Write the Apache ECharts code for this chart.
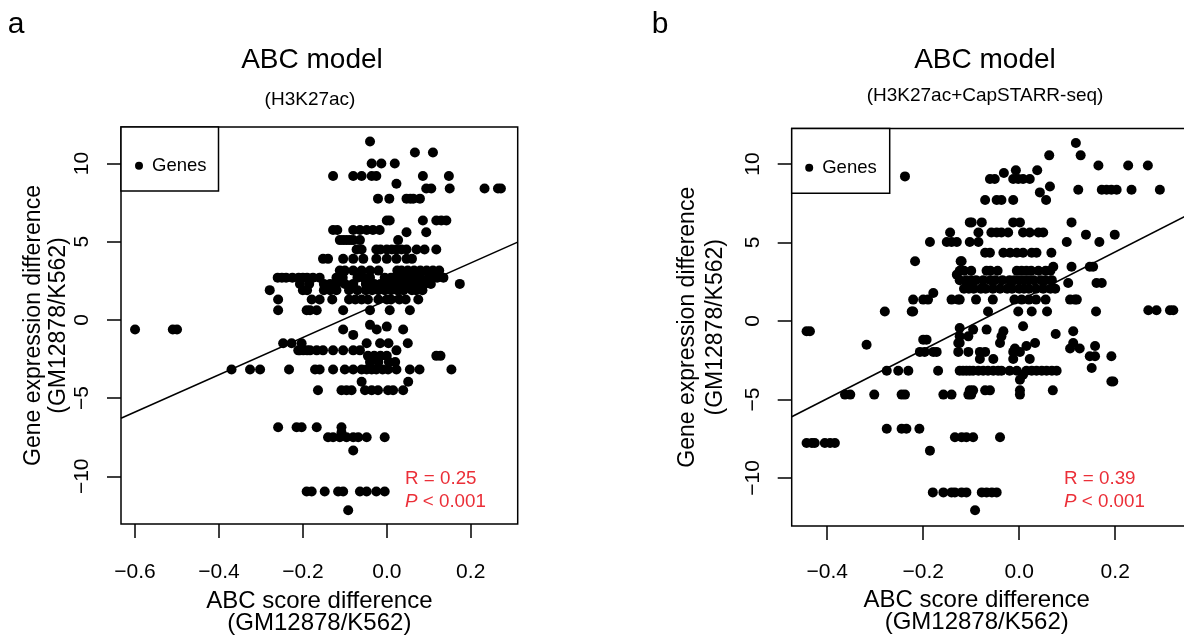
<!DOCTYPE html>
<html>
<head>
<meta charset="utf-8">
<style>
  html, body { margin: 0; padding: 0; background: #fff; }
  #main { width: 1184px; height: 635px; }
</style>
</head>
<body>
  <div id="main"></div>
  <script src="https://cdn.jsdelivr.net/npm/echarts@6/dist/echarts.min.js"></script>
  <script>
    // panel a: rows of genes, [expression difference, [ABC score differences]]
    var leftRows = [
      [11.4, [-0.04]],
      [10.7, [0.067, 0.11]],
      [10.0, [-0.036, -0.013, 0.019]],
      [9.2, [-0.128, -0.08, -0.06, -0.036, -0.025, 0.086, 0.148]],
      [8.7, [0.023]],
      [8.4, [0.094, 0.106, 0.15, 0.233, 0.265, 0.272]],
      [7.75, [-0.021, 0.006, 0.047, 0.056, 0.063, 0.079]],
      [6.35, [0.0, 0.007, 0.086, 0.118, 0.13, 0.142]],
      [5.75, [-0.128, -0.118, -0.08, -0.064, -0.048, -0.033, -0.017]],
      [5.6, [0.047, 0.094]],
      [5.1, [-0.112, -0.104, -0.096, -0.088, -0.08, -0.064, 0.027]],
      [4.5, [-0.072, -0.06, -0.025, -0.015, 0, 0.012, 0.023, 0.035, 0.047, 0.071, 0.09, 0.118]],
      [3.9, [-0.152, -0.14, -0.104, -0.08, -0.056, -0.025, 0, 0.023, 0.047, 0.06]],
      [3.15, [-0.112, -0.1, -0.08, -0.06, -0.04, -0.02, 0.025, 0.035, 0.05, 0.065, 0.08, 0.095, 0.11, 0.125]],
      [2.7, [-0.26, -0.25, -0.24, -0.225, -0.21, -0.2, -0.19, -0.176, -0.16, -0.12, -0.105, -0.07, -0.055, -0.04, -0.005, 0.01, 0.02, 0.035, 0.05, 0.065, 0.08, 0.1, 0.12, 0.135]],
      [2.3, [-0.207, -0.185, -0.15, -0.135, -0.12, -0.1, -0.08, -0.05, -0.03, -0.015, 0, 0.015, 0.03, 0.045, 0.06, 0.075, 0.09, 0.105, 0.174]],
      [1.9, [-0.279, -0.2, -0.19, -0.15, -0.135, -0.12, -0.09, -0.07, -0.05, -0.035, -0.02, -0.005, 0.01, 0.025, 0.04, 0.06, 0.07, 0.085]],
      [1.3, [-0.259, -0.179, -0.16, -0.13, -0.09, -0.075, -0.06, -0.045, -0.02, 0, 0.01, 0.03, 0.045, 0.075]],
      [0.62, [-0.259, -0.191, -0.183, -0.167, -0.104, -0.04, 0.007, 0.055]],
      [-0.32, [-0.04]],
      [-0.43, [0]],
      [-0.62, [-0.6, -0.51, -0.5, -0.104, -0.024, 0.039]],
      [-0.96, [-0.08]],
      [-1.5, [-0.247, -0.227, -0.203, -0.048, -0.016, 0.004, 0.05]],
      [-1.95, [-0.211, -0.207, -0.199, -0.19, -0.183, -0.167, -0.152, -0.128, -0.104, -0.08, -0.064, 0.023]],
      [-2.3, [-0.045, -0.03, -0.015, 0, 0.118, 0.128]],
      [-2.7, [-0.04, -0.02, 0.005, 0.02]],
      [-3.17, [-0.37, -0.326, -0.302, -0.233, -0.171, -0.16, -0.128, -0.1, -0.08, -0.06, -0.048, -0.036, -0.025, -0.01, 0.003, 0.023, 0.055, 0.078, 0.154]],
      [-3.96, [-0.06, 0.051]],
      [-4.5, [-0.164, -0.108, -0.096, -0.084, -0.052, -0.036, -0.021, 0.003, 0.015, 0.039]],
      [-6.86, [-0.259, -0.215, -0.203, -0.167, -0.108]],
      [-7.2, [-0.108]],
      [-7.5, [-0.14, -0.128, -0.112, -0.096, -0.08, -0.068, -0.048, -0.005]],
      [-8.35, [-0.08]],
      [-10.97, [-0.191, -0.179, -0.148, -0.116, -0.104, -0.064, -0.048, -0.025, -0.005]],
      [-12.17, [-0.092]]
    ];

    // panel b
    var rightRows = [
      [11.34, [0.118]],
      [10.55, [0.0625, 0.128]],
      [9.9, [0.165, 0.227, 0.268]],
      [9.6, [-0.007, 0.0375]],
      [9.43, [-0.032]],
      [9.21, [-0.238]],
      [9.04, [-0.061, -0.051, -0.0125, -0.002, 0.008, 0.022]],
      [8.57, [0.064]],
      [8.36, [0.123, 0.172, 0.182, 0.192, 0.203, 0.234, 0.293]],
      [8.19, [0.043]],
      [7.7, [-0.071, -0.047, -0.037, -0.0125, 0.056]],
      [6.28, [-0.103, -0.099, -0.078, -0.0125, 0.0015, 0.109]],
      [5.64, [-0.144, -0.085, -0.058, -0.047, -0.037, -0.023, 0.008, 0.022, 0.04, 0.05]],
      [5.5, [0.139, 0.199]],
      [5.03, [-0.186, -0.151, -0.141, -0.13, -0.103, -0.085, 0.099, 0.167]],
      [4.35, [-0.071, -0.061, -0.033, -0.019, -0.005, 0.008, 0.026, 0.036, 0.067]],
      [3.8, [-0.217, -0.122, -0.12]],
      [3.45, [0.071, 0.109, 0.147, 0.154]],
      [3.2, [-0.124, -0.115, -0.1, -0.068, -0.06, -0.045, -0.005, 0.005, 0.015, 0.025, 0.04, 0.055, 0.065]],
      [2.95, [-0.13]],
      [2.6, [-0.124, -0.11, -0.1, -0.09, -0.075, -0.06, -0.05, -0.035, -0.02, -0.01, 0, 0.01, 0.02, 0.03, 0.045, 0.055, 0.068]],
      [2.42, [0.102, 0.161, 0.172]],
      [2.05, [-0.115, -0.105, -0.095, -0.08, -0.07, -0.055, -0.04, -0.025, -0.015, 0, 0.01, 0.02, 0.035, 0.05, 0.065, 0.075]],
      [1.78, [-0.179]],
      [1.36, [-0.221, -0.2, -0.19, -0.141, -0.127, -0.124, -0.09, -0.055, -0.01, 0.005, 0.02, 0.035, 0.055, 0.106, 0.116, 0.12]],
      [0.68, [0.269, 0.286, 0.314, 0.321]],
      [0.6, [-0.28, -0.224, -0.221, -0.065, -0.002, 0.026, 0.058, 0.16]],
      [-0.34, [0.008]],
      [-0.45, [-0.124]],
      [-0.55, [-0.096, -0.068]],
      [-0.66, [-0.443, -0.436, -0.033, 0.1125]],
      [-0.83, [0.076]],
      [-0.98, [-0.124, -0.106, -0.037]],
      [-1.19, [-0.2, -0.193]],
      [-1.4, [-0.127, -0.124, -0.04, 0.033, 0.1125]],
      [-1.51, [-0.318]],
      [-1.6, [0.015, 0.158]],
      [-1.75, [-0.009, 0.106, 0.126]],
      [-1.97, [-0.207, -0.197, -0.179, -0.172, -0.127, -0.106, -0.082, -0.071, -0.0125, 0.0015]],
      [-2.25, [0.147, 0.158, 0.192]],
      [-2.42, [-0.082, -0.054, -0.0125, 0.022]],
      [-3.0, [0.151]],
      [-3.17, [-0.276, -0.252, -0.231, -0.169, -0.124, -0.117, -0.11, -0.103, -0.096, -0.085, -0.075, -0.065, -0.054, -0.044, -0.037, -0.02, -0.005, 0.015, 0.026, 0.036, 0.047, 0.057, 0.068, 0.078]],
      [-3.42, [0.008]],
      [-3.74, [0.0015]],
      [-3.85, [0.192, 0.196]],
      [-4.42, [-0.103, -0.096, -0.071, -0.061, 0.0015, 0.07]],
      [-4.69, [-0.363, -0.352, -0.302, -0.245, -0.238, -0.158, -0.141, -0.106, -0.1, 0.0015]],
      [-6.86, [-0.276, -0.245, -0.235, -0.208]],
      [-7.41, [-0.134, -0.12, -0.11, -0.096, -0.04]],
      [-7.77, [-0.443, -0.432, -0.426, -0.405, -0.394, -0.384]],
      [-8.26, [-0.186]],
      [-10.92, [-0.18, -0.158, -0.141, -0.134, -0.12, -0.11, -0.078, -0.068, -0.057, -0.047]],
      [-12.06, [-0.092]]
    ];

    // fitted lines: [intercept, slope]
    var leftFit = [1.253, 11.91];
    var rightFit = [1.28, 15.57];

    var leftXTicks = [-0.6, -0.4, -0.2, 0.0, 0.2];
    var rightXTicks = [-0.4, -0.2, 0.0, 0.2];
    var yTicks = [-10, -5, 0, 5, 10];

    var leftXRange = [-0.6335, 0.312];
    var rightXRange = [-0.474, 0.351];
    var leftYRange = [-13.05, 12.33];
    var rightYRange = [-13.06, 12.26];

    var FONT = "'Liberation Sans', Arial, Helvetica, sans-serif";
    var RED = "#eb2f38";

    function toPoints(rows) {
      var pts = [];
      rows.forEach(function (r) {
        r[1].forEach(function (x) { pts.push([x, r[0]]); });
      });
      return pts;
    }
    function fitLine(fit, range) {
      return range.map(function (x) { return [x, fit[0] + fit[1] * x]; });
    }
    function minus(s) { return String(s).replace("-", "\u2212"); }

    function xAxis(idx, range, ticks, namePad, nameGap, labelMargin) {
      return {
        type: "value", gridIndex: idx, min: range[0], max: range[1],
        name: "ABC score difference\n(GM12878/K562)",
        nameLocation: "middle", nameGap: nameGap,
        nameTextStyle: { fontFamily: FONT, fontSize: 24, color: "#000", lineHeight: 22, padding: namePad },
        axisLine: { show: false, onZero: false },
        axisTick: { show: true, inside: false, length: 14, customValues: ticks,
          lineStyle: { color: "#000", width: 1.5 } },
        axisLabel: { customValues: ticks, margin: labelMargin, fontFamily: FONT, fontSize: 21, color: "#000",
          formatter: function (v) { return minus(v.toFixed(1)); } },
        splitLine: { show: false }
      };
    }
    function yAxis(idx, range, nameGap, lineHeight) {
      return {
        type: "value", gridIndex: idx, min: range[0], max: range[1],
        name: "Gene expression difference\n(GM12878/K562)",
        nameLocation: "middle", nameRotate: 90, nameGap: nameGap,
        nameTextStyle: { fontFamily: FONT, fontSize: 23, color: "#000", lineHeight: lineHeight },
        axisLine: { show: false, onZero: false },
        axisTick: { show: true, inside: false, length: 14, customValues: yTicks,
          lineStyle: { color: "#000", width: 1.5 } },
        axisLabel: { customValues: yTicks, rotate: 90, margin: 28, fontFamily: FONT, fontSize: 21, color: "#000",
          formatter: function (v) { return minus(v); } },
        splitLine: { show: false }
      };
    }
    function legend(left, top, padding) {
      return {
        left: left, top: top, orient: "vertical", data: ["Genes"],
        icon: "circle", itemWidth: 16, itemHeight: 8, itemGap: 0,
        padding: padding, borderColor: "#000", borderWidth: 1.5, borderRadius: 0,
        backgroundColor: "#fff", selectedMode: false,
        textStyle: { fontFamily: FONT, fontSize: 18.5, color: "#000", lineHeight: 20 }
      };
    }
    function label(text, x, y, size, extra) {
      var style = { text: text, x: x, y: y, fontFamily: FONT, fontSize: size, fill: "#000",
        textAlign: "center", textVerticalAlign: "middle" };
      if (extra) { for (var k in extra) style[k] = extra[k]; }
      return { type: "text", style: style, z: 100 };
    }

    var myChart = echarts.init(document.getElementById("main"), null, { renderer: "canvas" });
    var option = {
      animation: false,
      backgroundColor: "#fff",
      grid: [
        { left: 121, top: 127, width: 396.7, height: 397, outerBoundsMode: "none", containLabel: false,
          show: true, borderColor: "#000", borderWidth: 1.5, backgroundColor: "transparent" },
        { left: 791.7, top: 128.5, width: 396, height: 397.5, outerBoundsMode: "none", containLabel: false,
          show: true, borderColor: "#000", borderWidth: 1.5, backgroundColor: "transparent" }
      ],
      xAxis: [
        xAxis(0, leftXRange, leftXTicks, [0, 0, 0, 0], 66, 38),
        xAxis(1, rightXRange, rightXTicks, [0, 26, 0, 0], 61, 36)
      ],
      yAxis: [yAxis(0, leftYRange, 50, 25), yAxis(1, rightYRange, 62, 28)],
      legend: [
        legend(121, 127, [28.7, 12, 15.3, 14]),
        legend(791.7, 128.5, [29.2, 13, 15.6, 13.5])
      ],
      series: [
        { name: "Genes", type: "scatter", xAxisIndex: 0, yAxisIndex: 0, data: toPoints(leftRows),
          symbolSize: 10, itemStyle: { color: "#000", opacity: 1 } },
        { name: "Genes", type: "scatter", xAxisIndex: 1, yAxisIndex: 1, data: toPoints(rightRows),
          symbolSize: 10, itemStyle: { color: "#000", opacity: 1 } },
        { name: "fit a", type: "line", xAxisIndex: 0, yAxisIndex: 0, data: fitLine(leftFit, leftXRange),
          symbol: "none", silent: true, lineStyle: { color: "#000", width: 1.6 } },
        { name: "fit b", type: "line", xAxisIndex: 1, yAxisIndex: 1, data: fitLine(rightFit, rightXRange),
          symbol: "none", silent: true, lineStyle: { color: "#000", width: 1.6 } }
      ],
      graphic: [
        label("a", 16, 25, 30),
        label("b", 660, 25, 30),
        label("ABC model", 312, 60, 28),
        label("(H3K27ac)", 310, 100, 19),
        label("ABC model", 985, 60, 28),
        label("(H3K27ac+CapSTARR-seq)", 985, 96, 19),
        label("R = 0.25", 405, 479, 18.8, { fill: RED, textAlign: "left" }),
        label("{i|P} < 0.001", 405, 502, 18.8, { fill: RED, textAlign: "left",
          rich: { i: { fontStyle: "italic", fontFamily: FONT, fontSize: 18.8, fill: RED } } }),
        label("R = 0.39", 1064, 479, 18.8, { fill: RED, textAlign: "left" }),
        label("{i|P} < 0.001", 1064, 502, 18.8, { fill: RED, textAlign: "left",
          rich: { i: { fontStyle: "italic", fontFamily: FONT, fontSize: 18.8, fill: RED } } })
      ]
    };
    myChart.setOption(option);
  </script>
</body>
</html>
